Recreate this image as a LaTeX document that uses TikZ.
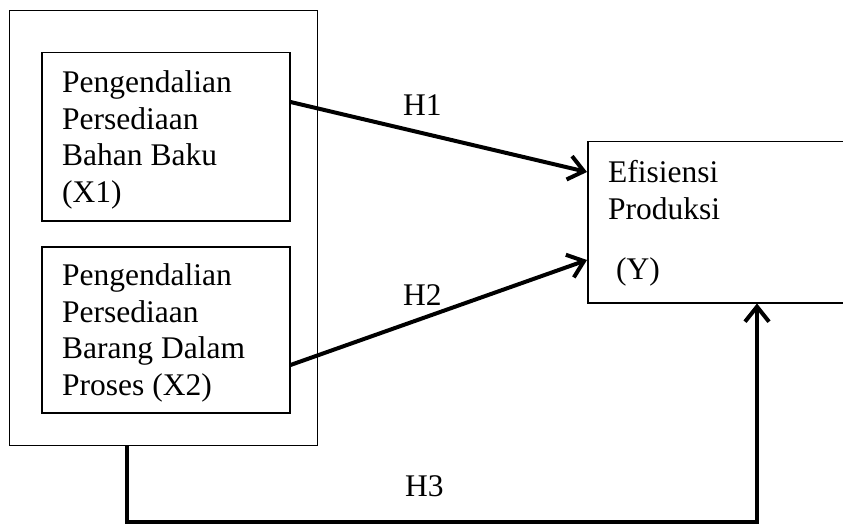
\documentclass[tikz,border=0pt]{standalone}
\usepackage{fontspec}
\setmainfont{Liberation Serif}
\usetikzlibrary{calc}
\usetikzlibrary{arrows.meta}
\tikzset{varbox/.style={draw, line width=1.5pt, anchor=north west, inner sep=0pt}}
\tikzset{vartext/.style={anchor=north west, align=left, inner sep=0pt, font=\fontsize{31.5}{36.7}\selectfont}}
\tikzset{hlabel/.style={anchor=base west, inner sep=0pt, font=\fontsize{31.5}{36.7}\selectfont}}
\tikzset{hyp/.style={line width=4pt, -{Straight Barb[length=15pt,width=24pt]}}}

\begin{document}
\begin{tikzpicture}[x=1pt,y=-1pt]
  \useasboundingbox (0,0) rectangle (843,524);
  % boxes
  \node[varbox, minimum width=308pt, minimum height=435pt, line width=1.2pt] (outer) at (9,10) {};
  \node[varbox, minimum width=248pt, minimum height=168pt] (x1) at (41,52) {};
  \node[varbox, minimum width=248pt, minimum height=166pt] (x2) at (41,246) {};
  \node[varbox, minimum width=300pt, minimum height=161pt] (y) at (587,141) {};
  \node[vartext] (x1text) at (62,70.5) {Pengendalian\\Persediaan\\Bahan Baku\\(X1)};
  \node[vartext] (x2text) at (62,263.5) {Pengendalian\\Persediaan\\Barang Dalam\\Proses (X2)};
  \node[vartext] (ytext) at (608,160.5) {Efisiensi\\Produksi\\[23.3pt]\hspace*{7.9pt}(Y)};
  % hypotheses
  \foreach \x/\y/\lab in {
    403/116/H1,
    403/305/H2,
    405/496/H3%
  } {
    \node[hlabel] (\lab) at (\x, \y) {\lab};
  }
  \coordinate (bend) at (127,522);
  \draw[hyp] ([yshift=-50pt]x1.north east) -- ([yshift=-31pt]y.north west);
  \draw[hyp] ([yshift=-119pt]x2.north east) -- ([yshift=-119pt]y.north west);
  \draw[hyp] ([xshift=118pt]outer.south west) -- (bend) -| ([xshift=170pt]y.south west);
\end{tikzpicture}
\end{document}
